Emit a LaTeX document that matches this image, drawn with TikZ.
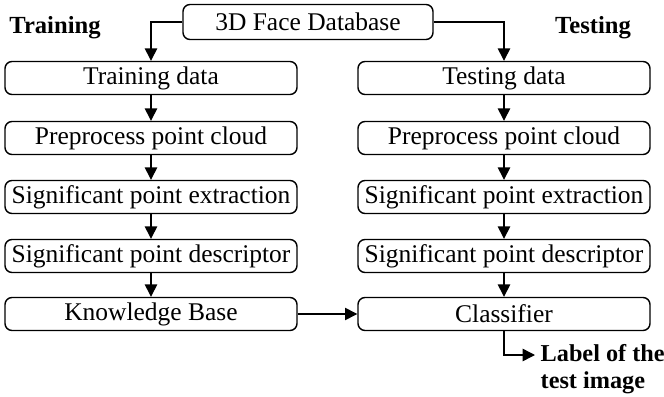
\documentclass[tikz,border=0pt]{standalone}
\usepackage{fontspec}
\setmainfont{Liberation Serif}
\usepackage{tikz}
\usetikzlibrary{arrows.meta,positioning,calc}

\begin{document}
\begin{tikzpicture}[font=\fontsize{14.5}{16}\selectfont, >={Triangle[length=7pt,width=7pt]}, line width=0.8pt,
  stage/.style={rounded corners=4pt, draw=black, fill=white, minimum width=5.84cm, minimum height=0.66cm, inner sep=1pt},
  source/.style={stage, minimum width=5.0cm, minimum height=0.7cm},
  side/.style={font=\fontsize{14}{16}\selectfont\bfseries},
  outtxt/.style={font=\fontsize{13.8}{15.5}\selectfont\bfseries, align=left, inner sep=0pt}]

\useasboundingbox (0,0) rectangle (13.28,-7.94);

\node[source] (db) at (6.16,-0.44) {3D Face Database};

\node[side] (train) at (1.10,-0.56) {Training};
\node[side] (test) at (11.86,-0.56) {Testing};

% training column
\node[stage] (trdata) at (3.02,-1.56) {Training data};
\node[stage] (trpre) at (3.02,-2.76) {Preprocess point cloud};
\node[stage] (trext) at (3.02,-3.94) {Significant point extraction};
\node[stage] (trdesc) at (3.02,-5.12) {Significant point descriptor};
\node[stage] (kb) at (3.02,-6.28) {Knowledge Base};

% testing column
\node[stage] (tedata) at (10.08,-1.56) {Testing data};
\node[stage] (tepre) at (10.08,-2.76) {Preprocess point cloud};
\node[stage] (teext) at (10.08,-3.94) {Significant point extraction};
\node[stage] (tedesc) at (10.08,-5.12) {Significant point descriptor};
\node[stage] (cls) at (10.08,-6.28) {Classifier};

\draw[->] (db.west) -| (trdata.north);
\draw[->] (db.east) -| (tedata.north);

\foreach \a/\b in {trdata/trpre,trpre/trext,trext/trdesc,trdesc/kb,tedata/tepre,tepre/teext,teext/tedesc,tedesc/cls}
  {\draw[->] (\a) -- (\b);}

\draw[->] (kb) -- (cls);

\coordinate (out) at (10.70,-7.10);
\node[outtxt, anchor=north west] (lbl) at (10.80,-6.87) {Label of the\\test image};
\draw[->] (cls.south) |- (out);
\end{tikzpicture}
\end{document}
